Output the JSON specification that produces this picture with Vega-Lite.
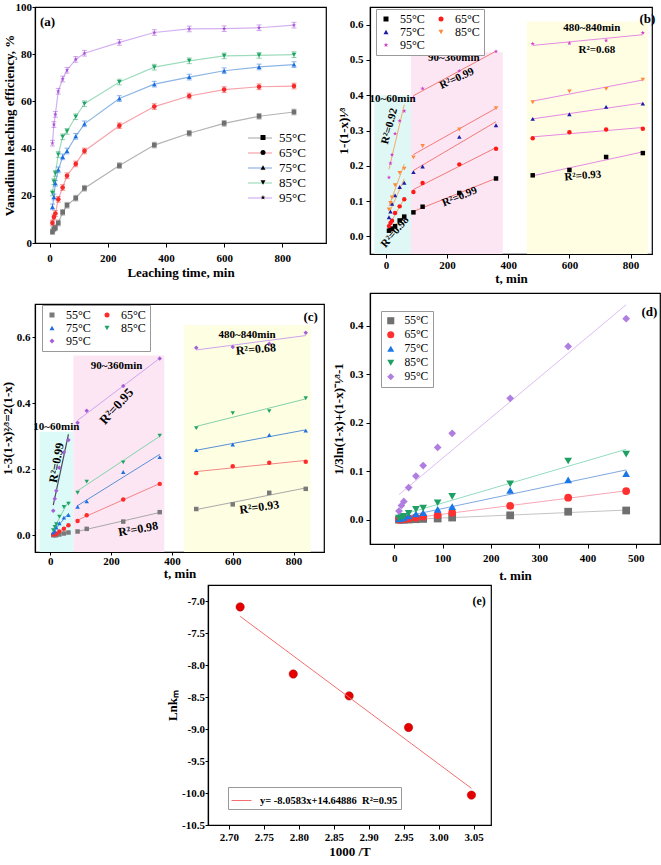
{
"$schema":"https://vega.github.io/schema/vega-lite/v6.json",
"background":"white",
"padding":0,
"config":{
 "font":"Liberation Serif",
 "locale":{"number":{"decimal":".","thousands":",","grouping":[3],"currency":["$",""],"minus":"-"}},
 "view":{"stroke":"black","strokeWidth":1.2},
 "axis":{"labelFont":"Liberation Serif","labelFontWeight":"bold","labelFontSize":11,"labelColor":"black","titleFont":"Liberation Serif","titleFontWeight":"bold","titleFontSize":13,"titleColor":"black","domainColor":"black","domainWidth":1.2,"tickColor":"black","tickWidth":1,"tickSize":4,"grid":false,"labelFlush":false,"labelOverlap":false},
 "axisY":{"labelOverlap":false},
 "legend":{"labelFont":"Liberation Serif","labelFontSize":12,"labelColor":"black","titleFont":"Liberation Serif"},
 "text":{"font":"Liberation Serif","fontWeight":"bold","fontSize":11,"color":"black"}
},
"datasets":{
 "a":[
  {"T":"55°C","t":10,"v":4.8,"e":1.2},{"T":"55°C","t":15,"v":6,"e":1.2},{"T":"55°C","t":20,"v":6.5,"e":1.2},{"T":"55°C","t":30,"v":8.5,"e":1.2},{"T":"55°C","t":45,"v":13,"e":1.2},{"T":"55°C","t":60,"v":16,"e":1.2},{"T":"55°C","t":90,"v":19,"e":1.2},{"T":"55°C","t":120,"v":23.2,"e":1.2},{"T":"55°C","t":240,"v":32.8,"e":1.2},{"T":"55°C","t":360,"v":41.5,"e":1.2},{"T":"55°C","t":480,"v":46.5,"e":1.2},{"T":"55°C","t":600,"v":50.7,"e":1.2},{"T":"55°C","t":720,"v":53.7,"e":1.2},{"T":"55°C","t":840,"v":55.5,"e":1.2},
  {"T":"65°C","t":10,"v":8.5,"e":1.2},{"T":"65°C","t":15,"v":11,"e":1.2},{"T":"65°C","t":20,"v":12.5,"e":1.2},{"T":"65°C","t":30,"v":18.5,"e":1.2},{"T":"65°C","t":45,"v":23.5,"e":1.2},{"T":"65°C","t":60,"v":28.5,"e":1.2},{"T":"65°C","t":90,"v":33.5,"e":1.2},{"T":"65°C","t":120,"v":39,"e":1.2},{"T":"65°C","t":240,"v":49.7,"e":1.2},{"T":"65°C","t":360,"v":57.8,"e":1.2},{"T":"65°C","t":480,"v":62.3,"e":1.2},{"T":"65°C","t":600,"v":65,"e":1.2},{"T":"65°C","t":720,"v":66.2,"e":1.2},{"T":"65°C","t":840,"v":66.5,"e":1.2},
  {"T":"75°C","t":10,"v":15.3,"e":1.2},{"T":"75°C","t":15,"v":19.5,"e":1.2},{"T":"75°C","t":20,"v":25.3,"e":1.2},{"T":"75°C","t":30,"v":31,"e":1.2},{"T":"75°C","t":45,"v":36.5,"e":1.2},{"T":"75°C","t":60,"v":39,"e":1.2},{"T":"75°C","t":90,"v":45.2,"e":1.2},{"T":"75°C","t":120,"v":50.5,"e":1.2},{"T":"75°C","t":240,"v":61.2,"e":1.2},{"T":"75°C","t":360,"v":67.3,"e":1.2},{"T":"75°C","t":480,"v":70.3,"e":1.2},{"T":"75°C","t":600,"v":73,"e":1.2},{"T":"75°C","t":720,"v":74.6,"e":1.2},{"T":"75°C","t":840,"v":75.6,"e":1.2},
  {"T":"85°C","t":10,"v":21.2,"e":1.2},{"T":"85°C","t":15,"v":26,"e":1.2},{"T":"85°C","t":20,"v":29.5,"e":1.2},{"T":"85°C","t":30,"v":37.5,"e":1.2},{"T":"85°C","t":45,"v":45,"e":1.2},{"T":"85°C","t":60,"v":47.3,"e":1.2},{"T":"85°C","t":90,"v":53.5,"e":1.2},{"T":"85°C","t":120,"v":59,"e":1.2},{"T":"85°C","t":240,"v":68.2,"e":1.2},{"T":"85°C","t":360,"v":74.5,"e":1.2},{"T":"85°C","t":480,"v":77.2,"e":1.2},{"T":"85°C","t":600,"v":79.3,"e":1.2},{"T":"85°C","t":720,"v":79.5,"e":1.2},{"T":"85°C","t":840,"v":79.8,"e":1.2},
  {"T":"95°C","t":10,"v":42.3,"e":1.2},{"T":"95°C","t":15,"v":50.2,"e":1.2},{"T":"95°C","t":20,"v":54.5,"e":1.2},{"T":"95°C","t":30,"v":64.3,"e":1.2},{"T":"95°C","t":45,"v":69.5,"e":1.2},{"T":"95°C","t":60,"v":73.2,"e":1.2},{"T":"95°C","t":90,"v":77.8,"e":1.2},{"T":"95°C","t":120,"v":80.4,"e":1.2},{"T":"95°C","t":240,"v":85,"e":1.2},{"T":"95°C","t":360,"v":89.2,"e":1.2},{"T":"95°C","t":480,"v":90.7,"e":1.2},{"T":"95°C","t":600,"v":90.8,"e":1.2},{"T":"95°C","t":720,"v":91.2,"e":1.2},{"T":"95°C","t":840,"v":92.3,"e":1.2}
 ],
 "b":[
  {"T":"55°C","t":10,"v":0.016,"seg":"early"},{"T":"55°C","t":15,"v":0.020,"seg":"early"},{"T":"55°C","t":20,"v":0.022,"seg":"early"},{"T":"55°C","t":30,"v":0.029,"seg":"early"},{"T":"55°C","t":45,"v":0.045,"seg":"early"},{"T":"55°C","t":60,"v":0.056,"seg":"early"},{"T":"55°C","t":90,"v":0.068,"seg":"mid"},{"T":"55°C","t":120,"v":0.084,"seg":"mid"},{"T":"55°C","t":240,"v":0.123,"seg":"mid"},{"T":"55°C","t":360,"v":0.164,"seg":"mid"},{"T":"55°C","t":480,"v":0.173,"seg":"late"},{"T":"55°C","t":600,"v":0.188,"seg":"late"},{"T":"55°C","t":720,"v":0.225,"seg":"late"},{"T":"55°C","t":840,"v":0.236,"seg":"late"},
  {"T":"65°C","t":10,"v":0.029,"seg":"early"},{"T":"65°C","t":15,"v":0.038,"seg":"early"},{"T":"65°C","t":20,"v":0.044,"seg":"early"},{"T":"65°C","t":30,"v":0.066,"seg":"early"},{"T":"65°C","t":45,"v":0.085,"seg":"early"},{"T":"65°C","t":60,"v":0.105,"seg":"early"},{"T":"65°C","t":90,"v":0.126,"seg":"mid"},{"T":"65°C","t":120,"v":0.151,"seg":"mid"},{"T":"65°C","t":240,"v":0.204,"seg":"mid"},{"T":"65°C","t":360,"v":0.248,"seg":"mid"},{"T":"65°C","t":480,"v":0.278,"seg":"late"},{"T":"65°C","t":600,"v":0.295,"seg":"late"},{"T":"65°C","t":720,"v":0.303,"seg":"late"},{"T":"65°C","t":840,"v":0.305,"seg":"late"},
  {"T":"75°C","t":10,"v":0.054,"seg":"early"},{"T":"75°C","t":15,"v":0.070,"seg":"early"},{"T":"75°C","t":20,"v":0.092,"seg":"early"},{"T":"75°C","t":30,"v":0.116,"seg":"early"},{"T":"75°C","t":45,"v":0.140,"seg":"early"},{"T":"75°C","t":60,"v":0.152,"seg":"early"},{"T":"75°C","t":90,"v":0.182,"seg":"mid"},{"T":"75°C","t":120,"v":0.198,"seg":"mid"},{"T":"75°C","t":240,"v":0.282,"seg":"mid"},{"T":"75°C","t":360,"v":0.315,"seg":"mid"},{"T":"75°C","t":480,"v":0.333,"seg":"late"},{"T":"75°C","t":600,"v":0.346,"seg":"late"},{"T":"75°C","t":720,"v":0.367,"seg":"late"},{"T":"75°C","t":840,"v":0.376,"seg":"late"},
  {"T":"85°C","t":10,"v":0.076,"seg":"early"},{"T":"85°C","t":15,"v":0.095,"seg":"early"},{"T":"85°C","t":20,"v":0.110,"seg":"early"},{"T":"85°C","t":30,"v":0.145,"seg":"early"},{"T":"85°C","t":45,"v":0.180,"seg":"early"},{"T":"85°C","t":60,"v":0.192,"seg":"early"},{"T":"85°C","t":90,"v":0.224,"seg":"mid"},{"T":"85°C","t":120,"v":0.256,"seg":"mid"},{"T":"85°C","t":240,"v":0.303,"seg":"mid"},{"T":"85°C","t":360,"v":0.363,"seg":"mid"},{"T":"85°C","t":480,"v":0.380,"seg":"late"},{"T":"85°C","t":600,"v":0.411,"seg":"late"},{"T":"85°C","t":720,"v":0.418,"seg":"late"},{"T":"85°C","t":840,"v":0.444,"seg":"late"},
  {"T":"95°C","t":10,"v":0.167,"seg":"early"},{"T":"95°C","t":15,"v":0.207,"seg":"early"},{"T":"95°C","t":20,"v":0.231,"seg":"early"},{"T":"95°C","t":30,"v":0.291,"seg":"early"},{"T":"95°C","t":45,"v":0.327,"seg":"early"},{"T":"95°C","t":60,"v":0.355,"seg":"early"},{"T":"95°C","t":90,"v":0.393,"seg":"mid"},{"T":"95°C","t":120,"v":0.419,"seg":"mid"},{"T":"95°C","t":240,"v":0.469,"seg":"mid"},{"T":"95°C","t":360,"v":0.524,"seg":"mid"},{"T":"95°C","t":480,"v":0.546,"seg":"late"},{"T":"95°C","t":600,"v":0.547,"seg":"late"},{"T":"95°C","t":720,"v":0.555,"seg":"late"},{"T":"95°C","t":840,"v":0.577,"seg":"late"}
 ],
 "c":[
  {"T":"55°C","t":10,"v":0.001,"seg":"early"},{"T":"55°C","t":15,"v":0.001,"seg":"early"},{"T":"55°C","t":20,"v":0.001,"seg":"early"},{"T":"55°C","t":30,"v":0.003,"seg":"early"},{"T":"55°C","t":45,"v":0.006,"seg":"early"},{"T":"55°C","t":60,"v":0.009,"seg":"early"},{"T":"55°C","t":90,"v":0.012,"seg":"mid"},{"T":"55°C","t":120,"v":0.020,"seg":"mid"},{"T":"55°C","t":240,"v":0.042,"seg":"mid"},{"T":"55°C","t":360,"v":0.0705,"seg":"mid"},{"T":"55°C","t":480,"v":0.080,"seg":"late"},{"T":"55°C","t":600,"v":0.094,"seg":"late"},{"T":"55°C","t":720,"v":0.129,"seg":"late"},{"T":"55°C","t":840,"v":0.141,"seg":"late"},
  {"T":"65°C","t":10,"v":0.003,"seg":"early"},{"T":"65°C","t":15,"v":0.004,"seg":"early"},{"T":"65°C","t":20,"v":0.005,"seg":"early"},{"T":"65°C","t":30,"v":0.012,"seg":"early"},{"T":"65°C","t":45,"v":0.020,"seg":"early"},{"T":"65°C","t":60,"v":0.031,"seg":"early"},{"T":"65°C","t":90,"v":0.044,"seg":"mid"},{"T":"65°C","t":120,"v":0.061,"seg":"mid"},{"T":"65°C","t":240,"v":0.109,"seg":"mid"},{"T":"65°C","t":360,"v":0.156,"seg":"mid"},{"T":"65°C","t":480,"v":0.1885,"seg":"late"},{"T":"65°C","t":600,"v":0.2096,"seg":"late"},{"T":"65°C","t":720,"v":0.2196,"seg":"late"},{"T":"65°C","t":840,"v":0.2226,"seg":"late"},
  {"T":"75°C","t":10,"v":0.009,"seg":"early"},{"T":"75°C","t":15,"v":0.014,"seg":"early"},{"T":"75°C","t":20,"v":0.024,"seg":"early"},{"T":"75°C","t":30,"v":0.037,"seg":"early"},{"T":"75°C","t":45,"v":0.054,"seg":"early"},{"T":"75°C","t":60,"v":0.062,"seg":"early"},{"T":"75°C","t":90,"v":0.087,"seg":"mid"},{"T":"75°C","t":120,"v":0.103,"seg":"mid"},{"T":"75°C","t":240,"v":0.192,"seg":"mid"},{"T":"75°C","t":360,"v":0.237,"seg":"mid"},{"T":"75°C","t":480,"v":0.258,"seg":"late"},{"T":"75°C","t":600,"v":0.275,"seg":"late"},{"T":"75°C","t":720,"v":0.304,"seg":"late"},{"T":"75°C","t":840,"v":0.317,"seg":"late"},
  {"T":"85°C","t":10,"v":0.016,"seg":"early"},{"T":"85°C","t":15,"v":0.026,"seg":"early"},{"T":"85°C","t":20,"v":0.034,"seg":"early"},{"T":"85°C","t":30,"v":0.057,"seg":"early"},{"T":"85°C","t":45,"v":0.086,"seg":"early"},{"T":"85°C","t":60,"v":0.096,"seg":"early"},{"T":"85°C","t":90,"v":0.129,"seg":"mid"},{"T":"85°C","t":120,"v":0.163,"seg":"mid"},{"T":"85°C","t":240,"v":0.221,"seg":"mid"},{"T":"85°C","t":360,"v":0.302,"seg":"mid"},{"T":"85°C","t":480,"v":0.3245,"seg":"late"},{"T":"85°C","t":600,"v":0.370,"seg":"late"},{"T":"85°C","t":720,"v":0.376,"seg":"late"},{"T":"85°C","t":840,"v":0.415,"seg":"late"},
  {"T":"95°C","t":10,"v":0.075,"seg":"early"},{"T":"95°C","t":15,"v":0.111,"seg":"early"},{"T":"95°C","t":20,"v":0.135,"seg":"early"},{"T":"95°C","t":30,"v":0.205,"seg":"early"},{"T":"95°C","t":45,"v":0.251,"seg":"early"},{"T":"95°C","t":60,"v":0.289,"seg":"early"},{"T":"95°C","t":90,"v":0.341,"seg":"mid"},{"T":"95°C","t":120,"v":0.377,"seg":"mid"},{"T":"95°C","t":240,"v":0.452,"seg":"mid"},{"T":"95°C","t":360,"v":0.535,"seg":"mid"},{"T":"95°C","t":480,"v":0.568,"seg":"late"},{"T":"95°C","t":600,"v":0.570,"seg":"late"},{"T":"95°C","t":720,"v":0.580,"seg":"late"},{"T":"95°C","t":840,"v":0.613,"seg":"late"}
 ],
 "d":[
  {"T":"55°C","t":10,"v":0.0001},{"T":"55°C","t":15,"v":0.0002},{"T":"55°C","t":20,"v":0.0002},{"T":"55°C","t":30,"v":0.0004},{"T":"55°C","t":45,"v":0.0011},{"T":"55°C","t":60,"v":0.0017},{"T":"55°C","t":90,"v":0.0025},{"T":"55°C","t":120,"v":0.0045},{"T":"55°C","t":240,"v":0.009},{"T":"55°C","t":360,"v":0.0165},{"T":"55°C","t":480,"v":0.019},
  {"T":"65°C","t":10,"v":0.0004},{"T":"65°C","t":15,"v":0.0008},{"T":"65°C","t":20,"v":0.001},{"T":"65°C","t":30,"v":0.0024},{"T":"65°C","t":45,"v":0.0041},{"T":"65°C","t":60,"v":0.0065},{"T":"65°C","t":90,"v":0.0097},{"T":"65°C","t":120,"v":0.0144},{"T":"65°C","t":240,"v":0.0284},{"T":"65°C","t":360,"v":0.0455},{"T":"65°C","t":480,"v":0.059},
  {"T":"75°C","t":10,"v":0.0016},{"T":"75°C","t":15,"v":0.0027},{"T":"75°C","t":20,"v":0.0049},{"T":"75°C","t":30,"v":0.008},{"T":"75°C","t":45,"v":0.0121},{"T":"75°C","t":60,"v":0.0144},{"T":"75°C","t":90,"v":0.0215},{"T":"75°C","t":120,"v":0.027},{"T":"75°C","t":240,"v":0.0605},{"T":"75°C","t":360,"v":0.082},{"T":"75°C","t":480,"v":0.095},
  {"T":"85°C","t":10,"v":0.0032},{"T":"85°C","t":15,"v":0.0052},{"T":"85°C","t":20,"v":0.0071},{"T":"85°C","t":30,"v":0.0129},{"T":"85°C","t":45,"v":0.0213},{"T":"85°C","t":60,"v":0.024},{"T":"85°C","t":90,"v":0.035},{"T":"85°C","t":120,"v":0.048},{"T":"85°C","t":240,"v":0.074},{"T":"85°C","t":360,"v":0.121},{"T":"85°C","t":480,"v":0.135},
  {"T":"95°C","t":10,"v":0.0179},{"T":"95°C","t":15,"v":0.0293},{"T":"95°C","t":20,"v":0.0376},{"T":"95°C","t":30,"v":0.0663},{"T":"95°C","t":45,"v":0.0899},{"T":"95°C","t":60,"v":0.1115},{"T":"95°C","t":90,"v":0.149},{"T":"95°C","t":120,"v":0.178},{"T":"95°C","t":240,"v":0.250},{"T":"95°C","t":360,"v":0.357},{"T":"95°C","t":480,"v":0.414}
 ],
 "e":[
  {"x":2.716,"y":-7.093},{"x":2.792,"y":-8.141},{"x":2.872,"y":-8.483},{"x":2.957,"y":-8.976},{"x":3.047,"y":-10.033}
 ]
},
"spacing":0,
"resolve":{"scale":{"x":"independent","y":"independent","color":"independent","shape":"independent","stroke":"independent"},"axis":{"x":"independent","y":"independent"},"legend":{"color":"independent","shape":"independent","stroke":"independent"}},
"vconcat":[
 {"spacing":4,
  "resolve":{"scale":{"x":"independent","y":"independent","color":"independent","shape":"independent","stroke":"independent"},"axis":{"x":"independent","y":"independent"},"legend":{"color":"independent","shape":"independent","stroke":"independent"}},
  "hconcat":[
  {"spacing":22,
   "resolve":{"scale":{"x":"independent","y":"independent","color":"independent","shape":"independent","stroke":"independent"},"axis":{"x":"independent","y":"independent"},"legend":{"color":"independent","shape":"independent","stroke":"independent"}},
   "vconcat":[
   {"width":291,"height":236,"data":{"name":"a"},
    "layer":[
     {"mark":{"type":"line","strokeWidth":1.2},
      "encoding":{
       "x":{"field":"t","type":"quantitative","title":"Leaching time, min","scale":{"domain":[-50,950],"nice":false,"zero":false},"axis":{"values":[0,50,100,150,200,250,300,350,400,450,500,550,600,650,700,750,800,850,900],"labelExpr":"datum.value % 100 == 0 ? datum.label : ''","tickSize":{"condition":{"test":"datum.value % 100 != 0","value":2},"value":4},"labelPadding":5,"titleY":23.5,"labelOverlap":false,"labelFlush":false}},
       "y":{"field":"v","type":"quantitative","title":"Vanadium leaching efficiency, %","scale":{"domain":[0,100],"nice":false,"zero":false},"axis":{"values":[0,10,20,30,40,50,60,70,80,90,100],"labelExpr":"datum.value % 20 == 0 ? datum.label : ''","tickSize":{"condition":{"test":"datum.value % 20 != 0","value":2},"value":3},"labelPadding":0.5,"titleX":-19,"labelOverlap":false}},
       "stroke":{"field":"T","type":"nominal","scale":{"domain":["55°C","65°C","75°C","85°C","95°C"],"range":["#b3b3b3","#f7a3aa","#8db5e3","#9fdcbc","#d4b0f0"]},"legend":{"orient":"none","legendX":218,"legendY":124,"title":null,"symbolType":"M-2,0H2","symbolSize":144,"symbolStrokeWidth":1.2,"labelFontSize":13,"labelOffset":12,"rowPadding":1,"padding":0}}
      }},
     {"mark":{"type":"errorbar","ticks":true,"opacity":0.5},
      "encoding":{"x":{"field":"t","type":"quantitative","title":"Leaching time, min"},"y":{"field":"v","type":"quantitative","title":"Vanadium leaching efficiency, %"},"yError":{"field":"e"},"color":{"field":"T","type":"nominal","legend":null}}},
     {"mark":{"type":"point","filled":true,"size":22,"opacity":1},
      "encoding":{"x":{"field":"t","type":"quantitative","title":"Leaching time, min"},"y":{"field":"v","type":"quantitative","title":"Vanadium leaching efficiency, %"},
       "color":{"field":"T","type":"nominal","scale":{"range":["#707070","#f52a2a","#1a6ee0","#1fa463","#a552d8"]},"legend":{"orient":"none","legendX":221.5,"legendY":124,"title":null,"labelFontSize":13,"labelOffset":4,"rowPadding":1,"padding":0,"labelExpr":"'\u00a0'","symbolSize":25}},
       "shape":{"field":"T","type":"nominal","scale":{"range":["square","circle","triangle-up","triangle-down","M0,-1L0.24,-0.33L0.95,-0.31L0.38,0.12L0.59,0.81L0,0.4L-0.59,0.81L-0.38,0.12L-0.95,-0.31L-0.24,-0.33Z"]},"legend":{"orient":"none","legendX":221.5,"legendY":124,"title":null,"labelFontSize":13,"labelOffset":4,"rowPadding":1,"padding":0,"labelExpr":"'\u00a0'","symbolSize":25}}}},
     {"data":{"values":[{}]},"mark":{"type":"text","text":"(a)","fontSize":13,"align":"left"},"encoding":{"x":{"datum":-33},"y":{"datum":93.8}}}
    ]},
   {"width":289,"height":248,"data":{"name":"c"},
    "layer":[
     {"data":{"values":[{}]},"mark":{"type":"rect","color":"#dcfaf8"},"encoding":{
       "x":{"datum":-35,"type":"quantitative","title":"t, min","scale":{"domain":[-50,900],"nice":false,"zero":false},"axis":{"values":[0,100,200,300,400,500,600,700,800],"labelExpr":"datum.value % 200 == 0 ? datum.label : ''","tickSize":{"condition":{"test":"datum.value % 200 != 0","value":2},"value":3},"labelPadding":0,"titleY":15,"labelOverlap":false,"labelFlush":false}},
       "x2":{"datum":76},
       "y":{"datum":-0.05,"type":"quantitative","title":"1-3(1-x)²⁄³=2(1-x)","scale":{"domain":[-0.05,0.7],"nice":false,"zero":false},"axis":{"values":[0,0.05,0.1,0.15,0.2,0.25,0.3,0.35,0.4,0.45,0.5,0.55,0.6,0.65,0.7],"labelExpr":"abs(datum.value*10 - round(datum.value*10)) > 0.001 ? '' : format(datum.value, '.1f')","tickSize":{"condition":{"test":"abs(datum.value*10 - round(datum.value*10)) > 0.001","value":2},"value":3},"labelPadding":2,"titleX":-21,"labelOverlap":false}},
       "y2":{"datum":0.314}}},
     {"data":{"values":[{}]},"mark":{"type":"rect","color":"#fce6f4"},"encoding":{"x":{"datum":76},"x2":{"datum":375},"y":{"datum":-0.05},"y2":{"datum":0.544}}},
     {"data":{"values":[{}]},"mark":{"type":"rect","color":"#fefee2"},"encoding":{"x":{"datum":440},"x2":{"datum":856},"y":{"datum":-0.05},"y2":{"datum":0.6365}}},
     {"transform":[{"filter":"!(datum.T == '95°C' && datum.seg == 'early')"},{"regression":"v","on":"t","groupby":["T","seg"]}],
      "mark":{"type":"line","strokeWidth":1},
      "encoding":{"x":{"field":"t","type":"quantitative","title":"t, min"},"y":{"field":"v","type":"quantitative","title":"1-3(1-x)²⁄³=2(1-x)"},"detail":{"field":"seg"},
       "stroke":{"field":"T","type":"nominal","scale":{"domain":["55°C","65°C","75°C","85°C","95°C"],"range":["#a8a8a8","#f28585","#5a90d6","#82d2aa","#cfa3ee"]},"legend":null}}},
     {"transform":[{"filter":"datum.T == '95°C' && datum.seg == 'early'"},{"regression":"v","on":"t"}],
      "mark":{"type":"line","strokeWidth":1.2,"color":"#4d4d5a"},
      "encoding":{"x":{"field":"t","type":"quantitative","title":"t, min"},"y":{"field":"v","type":"quantitative","title":"1-3(1-x)²⁄³=2(1-x)"}}},
     {"mark":{"type":"point","filled":true,"size":20,"opacity":1},
      "encoding":{"x":{"field":"t","type":"quantitative","title":"t, min"},"y":{"field":"v","type":"quantitative","title":"1-3(1-x)²⁄³=2(1-x)"},
       "color":{"field":"T","type":"nominal","scale":{"range":["#7a7a7a","#ff2b2b","#1f6fe0","#1fa463","#a35fd8"]},"legend":{"orient":"none","legendX":7,"legendY":1,"direction":"horizontal","columns":2,"title":null,"strokeColor":"#999999","fillColor":"white","padding":4,"labelFontSize":12,"labelOffset":8,"columnPadding":10,"rowPadding":1,"symbolSize":25}},
       "shape":{"field":"T","type":"nominal","scale":{"range":["square","circle","triangle-up","triangle-down","diamond"]},"legend":{"orient":"none","legendX":7,"legendY":1,"direction":"horizontal","columns":2,"title":null,"strokeColor":"#999999","fillColor":"white","padding":4,"labelFontSize":12,"labelOffset":8,"columnPadding":10,"rowPadding":1,"symbolSize":25}}}},
     {"data":{"values":[{}]},"mark":{"type":"text","text":"(c)","fontSize":13},"encoding":{"x":{"datum":856},"y":{"datum":0.66}}},
     {"data":{"values":[{}]},"mark":{"type":"text","text":"10~60min","fontSize":11},"encoding":{"x":{"datum":20},"y":{"datum":0.327}}},
     {"data":{"values":[{}]},"mark":{"type":"text","text":"90~360min","fontSize":11},"encoding":{"x":{"datum":218},"y":{"datum":0.514}}},
     {"data":{"values":[{}]},"mark":{"type":"text","text":"480~840min","fontSize":11},"encoding":{"x":{"datum":647},"y":{"datum":0.607}}},
     {"data":{"values":[{}]},"mark":{"type":"text","text":"R²=0.99","fontSize":12,"angle":280},"encoding":{"x":{"datum":20},"y":{"datum":0.22}}},
     {"data":{"values":[{}]},"mark":{"type":"text","text":"R²=0.95","fontSize":13,"angle":312},"encoding":{"x":{"datum":218},"y":{"datum":0.39}}},
     {"data":{"values":[{}]},"mark":{"type":"text","text":"R²=0.98","fontSize":12,"angle":350},"encoding":{"x":{"datum":289},"y":{"datum":0.02}}},
     {"data":{"values":[{}]},"mark":{"type":"text","text":"R²=0.68","fontSize":12,"angle":355},"encoding":{"x":{"datum":676},"y":{"datum":0.564}}},
     {"data":{"values":[{}]},"mark":{"type":"text","text":"R²=0.93","fontSize":12,"angle":352},"encoding":{"x":{"datum":687},"y":{"datum":0.086}}}
    ]}
  ]},
  {"spacing":6,
   "resolve":{"scale":{"x":"independent","y":"independent","color":"independent","shape":"independent","stroke":"independent"},"axis":{"x":"independent","y":"independent"},"legend":{"color":"independent","shape":"independent","stroke":"independent"}},
   "vconcat":[
   {"width":282,"height":247,"data":{"name":"b"},
    "layer":[
     {"data":{"values":[{}]},"mark":{"type":"rect","color":"#dff8f6"},"encoding":{
       "x":{"datum":-38,"type":"quantitative","title":"t, min","scale":{"domain":[-52,870],"nice":false,"zero":false},"axis":{"values":[0,100,200,300,400,500,600,700,800],"labelExpr":"datum.value % 200 == 0 ? datum.label : ''","tickSize":{"condition":{"test":"datum.value % 200 != 0","value":2},"value":4},"labelPadding":1,"titleY":18,"labelOverlap":false,"labelFlush":false}},
       "x2":{"datum":82},
       "y":{"datum":-0.05,"type":"quantitative","title":"1-(1-x)¹⁄³","scale":{"domain":[-0.05,0.65],"nice":false,"zero":false},"axis":{"values":[0,0.05,0.1,0.15,0.2,0.25,0.3,0.35,0.4,0.45,0.5,0.55,0.6],"labelExpr":"abs(datum.value*10 - round(datum.value*10)) > 0.001 ? '' : format(datum.value, '.1f')","tickSize":{"condition":{"test":"abs(datum.value*10 - round(datum.value*10)) > 0.001","value":2},"value":4},"labelPadding":3,"titleX":-20,"labelOverlap":false}},
       "y2":{"datum":0.40}}},
     {"data":{"values":[{}]},"mark":{"type":"rect","color":"#fce6f4"},"encoding":{"x":{"datum":82},"x2":{"datum":382},"y":{"datum":-0.05},"y2":{"datum":0.522}}},
     {"data":{"values":[{}]},"mark":{"type":"rect","color":"#fffde2"},"encoding":{"x":{"datum":461},"x2":{"datum":856},"y":{"datum":-0.05},"y2":{"datum":0.609}}},
     {"transform":[{"regression":"v","on":"t","groupby":["T","seg"]}],
      "mark":{"type":"line","strokeWidth":1},
      "encoding":{"x":{"field":"t","type":"quantitative","title":"t, min"},"y":{"field":"v","type":"quantitative","title":"1-(1-x)¹⁄³"},"detail":{"field":"T"},
       "stroke":{"field":"seg","type":"nominal","scale":{"domain":["early","mid","late"],"range":["#f6a96a","#f37a78","#e58be4"]},"legend":null}}},
     {"mark":{"type":"point","filled":true,"size":20,"opacity":1},
      "encoding":{"x":{"field":"t","type":"quantitative","title":"t, min"},"y":{"field":"v","type":"quantitative","title":"1-(1-x)¹⁄³"},
       "color":{"field":"T","type":"nominal","scale":{"range":["#000000","#ff1a1a","#1c1ca6","#ff8a3d","#d23cc8"]},"legend":{"orient":"none","legendX":6,"legendY":2,"direction":"horizontal","columns":2,"title":null,"strokeColor":"#999999","fillColor":"white","padding":4,"labelFontSize":12,"labelOffset":8,"columnPadding":10,"rowPadding":1,"symbolSize":25}},
       "shape":{"field":"T","type":"nominal","scale":{"range":["square","circle","triangle-up","triangle-down","M0,-1L0.24,-0.33L0.95,-0.31L0.38,0.12L0.59,0.81L0,0.4L-0.59,0.81L-0.38,0.12L-0.95,-0.31L-0.24,-0.33Z"]},"legend":{"orient":"none","legendX":6,"legendY":2,"direction":"horizontal","columns":2,"title":null,"strokeColor":"#999999","fillColor":"white","padding":4,"labelFontSize":12,"labelOffset":8,"columnPadding":10,"rowPadding":1,"symbolSize":25}}}},
     {"data":{"values":[{}]},"mark":{"type":"text","text":"(b)","fontSize":13},"encoding":{"x":{"datum":855},"y":{"datum":0.616}}},
     {"data":{"values":[{}]},"mark":{"type":"text","text":"10~60min","fontSize":11},"encoding":{"x":{"datum":22},"y":{"datum":0.388}}},
     {"data":{"values":[{}]},"mark":{"type":"text","text":"90~360min","fontSize":11},"encoding":{"x":{"datum":222},"y":{"datum":0.505}}},
     {"data":{"values":[{}]},"mark":{"type":"text","text":"480~840min","fontSize":11},"encoding":{"x":{"datum":673},"y":{"datum":0.59}}},
     {"data":{"values":[{}]},"mark":{"type":"text","text":"R²=0.92","fontSize":11,"angle":285},"encoding":{"x":{"datum":12},"y":{"datum":0.312}}},
     {"data":{"values":[{}]},"mark":{"type":"text","text":"R²=0.98","fontSize":11,"angle":310},"encoding":{"x":{"datum":30},"y":{"datum":0.012}}},
     {"data":{"values":[{}]},"mark":{"type":"text","text":"R²=0.99","fontSize":11,"angle":335},"encoding":{"x":{"datum":232},"y":{"datum":0.447}}},
     {"data":{"values":[{}]},"mark":{"type":"text","text":"R²=0.99","fontSize":11,"angle":338},"encoding":{"x":{"datum":241},"y":{"datum":0.112}}},
     {"data":{"values":[{}]},"mark":{"type":"text","text":"R²=0.68","fontSize":11},"encoding":{"x":{"datum":690},"y":{"datum":0.529}}},
     {"data":{"values":[{}]},"mark":{"type":"text","text":"R²=0.93","fontSize":11,"angle":355},"encoding":{"x":{"datum":644},"y":{"datum":0.171}}}
    ]},
   {"width":290,"height":251,"data":{"name":"d"},
    "layer":[
     {"transform":[{"regression":"v","on":"t","groupby":["T"]}],
      "mark":{"type":"line","strokeWidth":1},
      "encoding":{
       "x":{"field":"t","type":"quantitative","title":"t. min","scale":{"domain":[-50,550],"nice":false,"zero":false},"axis":{"values":[0,50,100,150,200,250,300,350,400,450,500],"labelExpr":"datum.value % 100 == 0 ? datum.label : ''","tickSize":{"condition":{"test":"datum.value % 100 != 0","value":2},"value":4},"labelPadding":4,"titleY":25.5,"labelOverlap":false,"labelFlush":false}},
       "y":{"field":"v","type":"quantitative","title":"1/3ln(1-x)+(1-x)⁻¹⁄³-1","scale":{"domain":[-0.05,0.467],"nice":false,"zero":false},"axis":{"values":[0,0.05,0.1,0.15,0.2,0.25,0.3,0.35,0.4,0.45],"labelExpr":"abs(datum.value*10 - round(datum.value*10)) > 0.001 ? '' : format(datum.value, '.1f')","tickSize":{"condition":{"test":"abs(datum.value*10 - round(datum.value*10)) > 0.001","value":2},"value":4},"labelPadding":3,"titleX":-25,"labelOverlap":false}},
       "stroke":{"field":"T","type":"nominal","scale":{"domain":["55°C","65°C","75°C","85°C","95°C"],"range":["#c4c4c4","#f7a6b4","#7fa8e0","#94dbc0","#dcbdf2"]},"legend":null}}},
     {"mark":{"type":"point","filled":true,"size":60,"opacity":1},
      "encoding":{"x":{"field":"t","type":"quantitative","title":"t. min"},"y":{"field":"v","type":"quantitative","title":"1/3ln(1-x)+(1-x)⁻¹⁄³-1"},
       "color":{"field":"T","type":"nominal","scale":{"range":["#707070","#ff3030","#1a78e6","#1ea064","#b07ee0"]},"legend":{"orient":"none","legendX":11,"legendY":18,"title":null,"strokeColor":"#999999","fillColor":"white","padding":4,"labelFontSize":11.5,"labelOffset":8,"rowPadding":1,"symbolSize":50}},
       "shape":{"field":"T","type":"nominal","scale":{"range":["square","circle","triangle-up","triangle-down","diamond"]},"legend":{"orient":"none","legendX":11,"legendY":18,"title":null,"strokeColor":"#999999","fillColor":"white","padding":4,"labelFontSize":11.5,"labelOffset":8,"rowPadding":1,"symbolSize":50}}}},
     {"data":{"values":[{}]},"mark":{"type":"text","text":"(d)","fontSize":13},"encoding":{"x":{"datum":528},"y":{"datum":0.427}}}
    ]}
  ]}
 ]},
 {"spacing":0,
  "resolve":{"scale":{"x":"independent","y":"independent","color":"independent","shape":"independent","stroke":"independent"},"axis":{"x":"independent","y":"independent"},"legend":{"color":"independent","shape":"independent","stroke":"independent"}},
  "hconcat":[
  {"width":130,"height":20,"data":{"values":[{}]},"mark":{"type":"point","opacity":0},"encoding":{},"view":{"stroke":null}},
  {"width":283,"height":240,"data":{"name":"e"},
   "layer":[
    {"mark":{"type":"point","filled":true,"size":70,"color":"#e50000","opacity":1,"stroke":"#b00000","strokeWidth":0.5},
     "encoding":{
      "x":{"field":"x","type":"quantitative","title":"1000 /T","scale":{"domain":[2.67,3.075],"nice":false,"zero":false},"axis":{"values":[2.7,2.725,2.75,2.775,2.8,2.825,2.85,2.875,2.9,2.925,2.95,2.975,3.0,3.025,3.05],"labelExpr":"abs(datum.value*20 - round(datum.value*20)) > 0.001 ? '' : format(datum.value, '.2f')","tickSize":{"condition":{"test":"abs(datum.value*20 - round(datum.value*20)) > 0.001","value":2},"value":4},"labelPadding":2,"titleY":20,"labelOverlap":false,"labelFlush":false}},
      "y":{"field":"y","type":"quantitative","title":"Lnkₘ","scale":{"domain":[-10.5,-6.75],"nice":false,"zero":false},"axis":{"tickCount":8,"format":".1f","tickSize":3,"labelPadding":0.5,"titleX":-29,"labelOverlap":false}}}},
    {"transform":[{"regression":"y","on":"x"}],
     "mark":{"type":"line","strokeWidth":1},
     "encoding":{
      "x":{"field":"x","type":"quantitative","title":"1000 /T"},
      "y":{"field":"y","type":"quantitative","title":"Lnkₘ"},
      "stroke":{"datum":"y= -8.0583x+14.64886\u00a0\u00a0R²=0.95","type":"nominal","scale":{"range":["#f27070"]},"legend":{"orient":"none","legendX":20,"legendY":202,"title":null,"symbolType":"stroke","symbolSize":400,"symbolStrokeWidth":1,"labelFontSize":10.5,"labelFontWeight":"bold","labelOffset":8,"strokeColor":"#999999","fillColor":"white","padding":3}}}},
    {"data":{"values":[{}]},"mark":{"type":"text","text":"(e)","fontSize":12},"encoding":{"x":{"datum":3.058},"y":{"datum":-7.0}}}
   ]}
 ]}
]
}
